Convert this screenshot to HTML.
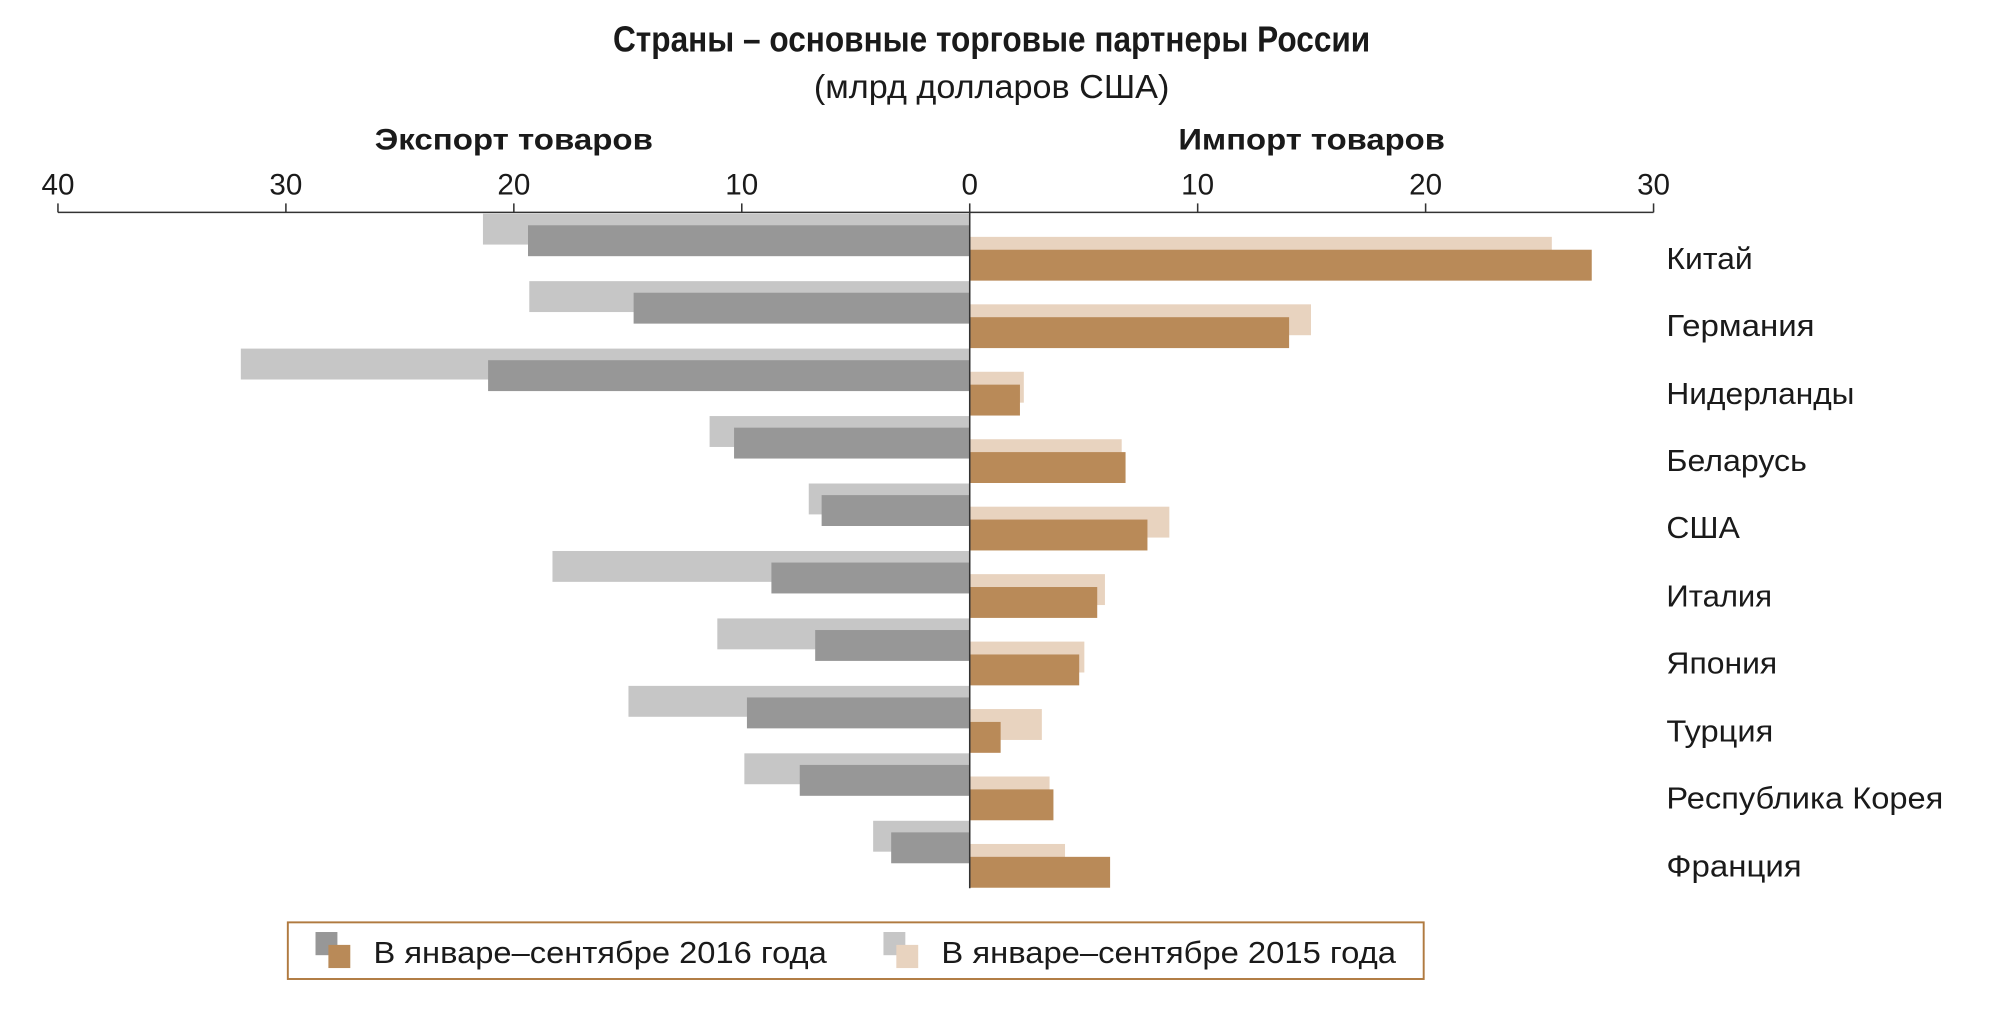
<!DOCTYPE html>
<html><head><meta charset="utf-8"><style>
html,body{margin:0;padding:0;background:#fff;}
svg{display:block;}
text{font-family:"Liberation Sans Narrow","Liberation Sans",sans-serif;fill:#1a1a1a;}
</style></head><body>
<svg width="2009" height="1035" viewBox="0 0 1560 804" preserveAspectRatio="none" xmlns="http://www.w3.org/2000/svg">
<rect width="1560" height="804" fill="#fff"/>
<text x="476" y="40" font-size="28" font-weight="bold" textLength="588" lengthAdjust="spacingAndGlyphs">Страны – основные торговые партнеры России</text>
<text x="632" y="76" font-size="26" textLength="276" lengthAdjust="spacingAndGlyphs">(млрд долларов США)</text>
<text x="291" y="116" font-size="23" font-weight="bold" textLength="216" lengthAdjust="spacingAndGlyphs">Экспорт товаров</text>
<text x="915" y="116" font-size="23" font-weight="bold" textLength="207" lengthAdjust="spacingAndGlyphs">Импорт товаров</text>
<g font-size="23" text-anchor="middle">
<text x="45" y="151">40</text><text x="222" y="151">30</text><text x="399" y="151">20</text><text x="576" y="151">10</text><text x="753" y="151">0</text><text x="930" y="151">10</text><text x="1107" y="151">20</text><text x="1284" y="151">30</text>
</g>
<g stroke="#333" stroke-width="1.2">
<line x1="45" y1="165" x2="1284" y2="165"/>
<line x1="45" y1="158" x2="45" y2="165"/><line x1="222" y1="158" x2="222" y2="165"/><line x1="399" y1="158" x2="399" y2="165"/><line x1="576" y1="158" x2="576" y2="165"/><line x1="753" y1="158" x2="753" y2="165"/><line x1="930" y1="158" x2="930" y2="165"/><line x1="1107" y1="158" x2="1107" y2="165"/><line x1="1284" y1="158" x2="1284" y2="165"/>
</g>
<g id="bars">
<g transform="translate(0,0)"><rect x="375" y="166" width="378" height="24" fill="#c6c6c6"/><rect x="410" y="175" width="343" height="24" fill="#979797"/><rect x="753" y="184" width="452" height="24" fill="#e8d3bf"/><rect x="753" y="194" width="483" height="24" fill="#b98a58"/></g>
<g transform="translate(0,52.4)"><rect x="411" y="166" width="342" height="24" fill="#c6c6c6"/><rect x="492" y="175" width="261" height="24" fill="#979797"/><rect x="753" y="184" width="265" height="24" fill="#e8d3bf"/><rect x="753" y="194" width="248" height="24" fill="#b98a58"/></g>
<g transform="translate(0,104.8)"><rect x="187" y="166" width="566" height="24" fill="#c6c6c6"/><rect x="379" y="175" width="374" height="24" fill="#979797"/><rect x="753" y="184" width="42" height="24" fill="#e8d3bf"/><rect x="753" y="194" width="39" height="24" fill="#b98a58"/></g>
<g transform="translate(0,157.2)"><rect x="551" y="166" width="202" height="24" fill="#c6c6c6"/><rect x="570" y="175" width="183" height="24" fill="#979797"/><rect x="753" y="184" width="118" height="24" fill="#e8d3bf"/><rect x="753" y="194" width="121" height="24" fill="#b98a58"/></g>
<g transform="translate(0,209.6)"><rect x="628" y="166" width="125" height="24" fill="#c6c6c6"/><rect x="638" y="175" width="115" height="24" fill="#979797"/><rect x="753" y="184" width="155" height="24" fill="#e8d3bf"/><rect x="753" y="194" width="138" height="24" fill="#b98a58"/></g>
<g transform="translate(0,262)"><rect x="429" y="166" width="324" height="24" fill="#c6c6c6"/><rect x="599" y="175" width="154" height="24" fill="#979797"/><rect x="753" y="184" width="105" height="24" fill="#e8d3bf"/><rect x="753" y="194" width="99" height="24" fill="#b98a58"/></g>
<g transform="translate(0,314.4)"><rect x="557" y="166" width="196" height="24" fill="#c6c6c6"/><rect x="633" y="175" width="120" height="24" fill="#979797"/><rect x="753" y="184" width="89" height="24" fill="#e8d3bf"/><rect x="753" y="194" width="85" height="24" fill="#b98a58"/></g>
<g transform="translate(0,366.8)"><rect x="488" y="166" width="265" height="24" fill="#c6c6c6"/><rect x="580" y="175" width="173" height="24" fill="#979797"/><rect x="753" y="184" width="56" height="24" fill="#e8d3bf"/><rect x="753" y="194" width="24" height="24" fill="#b98a58"/></g>
<g transform="translate(0,419.2)"><rect x="578" y="166" width="175" height="24" fill="#c6c6c6"/><rect x="621" y="175" width="132" height="24" fill="#979797"/><rect x="753" y="184" width="62" height="24" fill="#e8d3bf"/><rect x="753" y="194" width="65" height="24" fill="#b98a58"/></g>
<g transform="translate(0,471.6)"><rect x="678" y="166" width="75" height="24" fill="#c6c6c6"/><rect x="692" y="175" width="61" height="24" fill="#979797"/><rect x="753" y="184" width="74" height="24" fill="#e8d3bf"/><rect x="753" y="194" width="109" height="24" fill="#b98a58"/></g>
</g>
<line x1="753" y1="165" x2="753" y2="690" stroke="#333" stroke-width="1.2"/>
<g font-size="24" lengthAdjust="spacingAndGlyphs">
<text x="1294" y="209" textLength="67" lengthAdjust="spacingAndGlyphs">Китай</text>
<text x="1294" y="261" textLength="115" lengthAdjust="spacingAndGlyphs">Германия</text>
<text x="1294" y="314" textLength="146" lengthAdjust="spacingAndGlyphs">Нидерланды</text>
<text x="1294" y="366" textLength="109" lengthAdjust="spacingAndGlyphs">Беларусь</text>
<text x="1294" y="418" textLength="57" lengthAdjust="spacingAndGlyphs">США</text>
<text x="1294" y="471" textLength="82" lengthAdjust="spacingAndGlyphs">Италия</text>
<text x="1294" y="523" textLength="86" lengthAdjust="spacingAndGlyphs">Япония</text>
<text x="1294" y="576" textLength="83" lengthAdjust="spacingAndGlyphs">Турция</text>
<text x="1294" y="628" textLength="215" lengthAdjust="spacingAndGlyphs">Республика Корея</text>
<text x="1294" y="681" textLength="105" lengthAdjust="spacingAndGlyphs">Франция</text>
</g>
<rect x="223.5" y="716.5" width="882" height="44" fill="none" stroke="#b07a40" stroke-width="1.5"/>
<rect x="245" y="724" width="17" height="18" fill="#979797"/>
<rect x="255" y="734" width="17" height="18" fill="#b98a58"/>
<text x="290" y="748" font-size="24" textLength="352" lengthAdjust="spacingAndGlyphs">В январе–сентябре 2016 года</text>
<rect x="686" y="724" width="17" height="18" fill="#c6c6c6"/>
<rect x="696" y="734" width="17" height="18" fill="#e8d3bf"/>
<text x="731" y="748" font-size="24" textLength="353" lengthAdjust="spacingAndGlyphs">В январе–сентябре 2015 года</text>
</svg>
</body></html>
